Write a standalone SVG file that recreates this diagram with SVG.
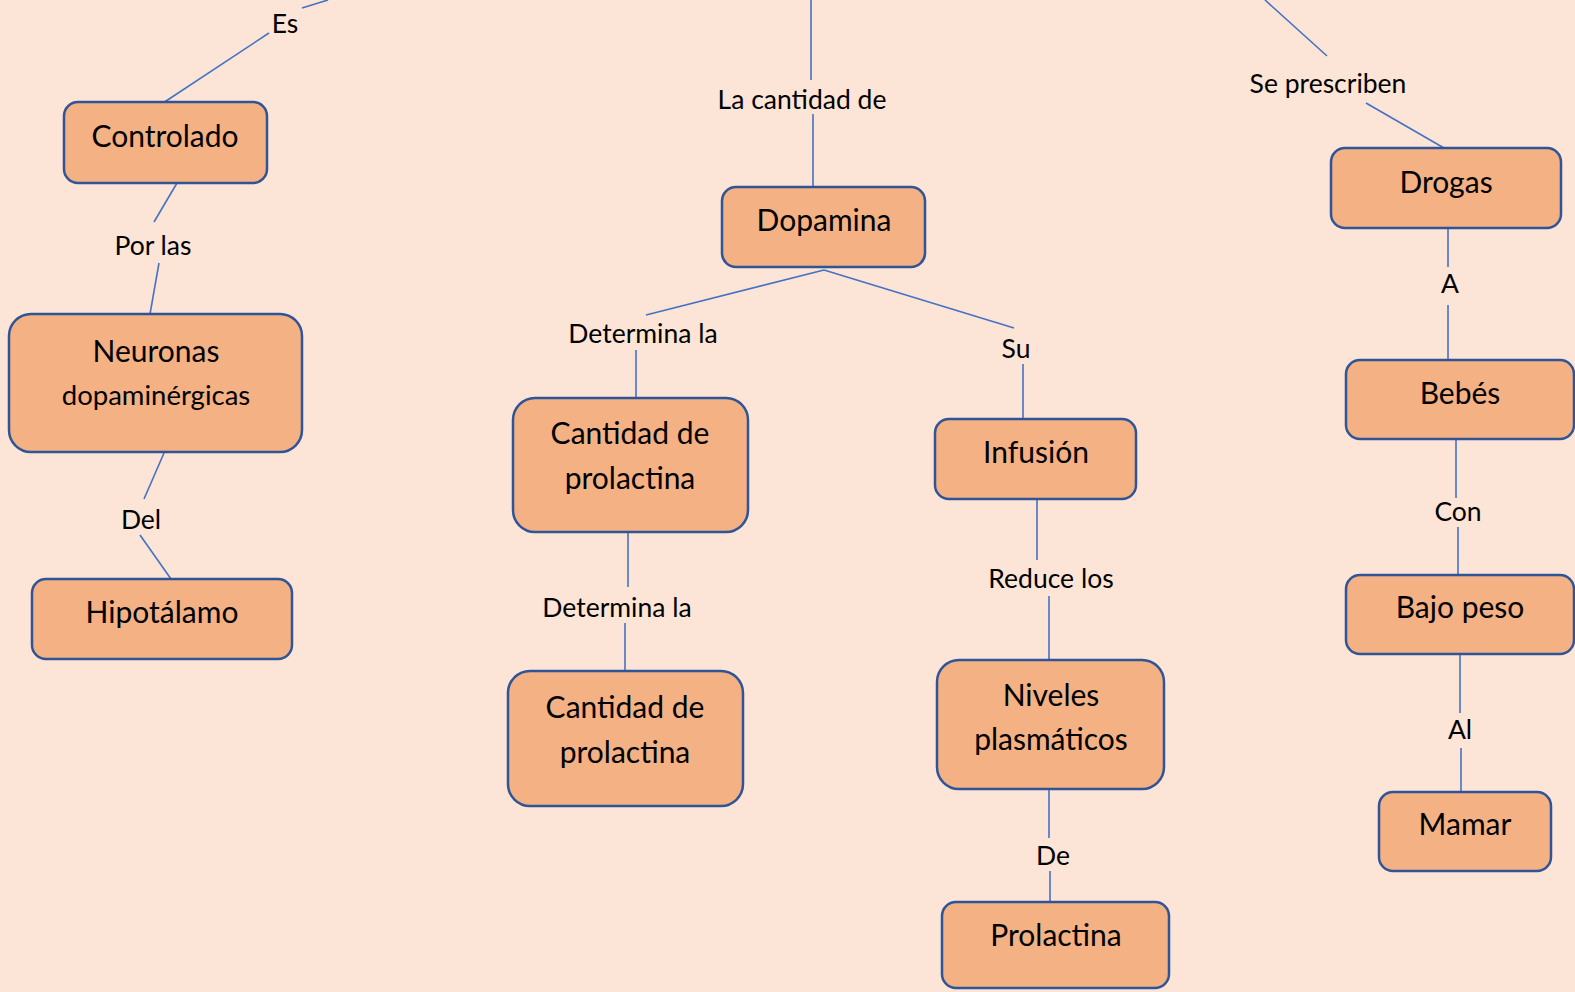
<svg xmlns="http://www.w3.org/2000/svg" width="1575" height="992" viewBox="0 0 1575 992">
<style>
.bg{fill:#FCE4D6}
.node rect{fill:#F4B183;stroke:#2F5597;stroke-width:2.5}
.node text{font-family:Lato,"Liberation Sans",sans-serif;font-size:30px;fill:#000;text-anchor:middle}
.node text.s{font-size:27.5px}
#connectors line{stroke:#4472C4;stroke-width:1.6}
#connectors text{font-family:Lato,"Liberation Sans",sans-serif;font-size:26.5px;fill:#000;text-anchor:middle}
</style>
<rect class="bg" x="0" y="0" width="1575" height="992"/>
<g id="connectors">
<line x1="302" y1="8" x2="328" y2="0"/>
<line x1="269" y1="33" x2="163" y2="103"/>
<text x="285" y="33">Es</text>
<line x1="177" y1="183" x2="154" y2="222"/>
<line x1="159" y1="263" x2="150" y2="314"/>
<text x="153" y="255">Por las</text>
<line x1="164" y1="453" x2="144" y2="499"/>
<line x1="140" y1="535" x2="171" y2="579"/>
<text x="141" y="529">Del</text>
<line x1="811" y1="0" x2="811" y2="80"/>
<line x1="813" y1="114" x2="813" y2="187"/>
<text x="802" y="109">La cantidad de</text>
<line x1="824" y1="270" x2="646" y2="315"/>
<line x1="824" y1="270" x2="1014" y2="328"/>
<text x="643" y="343">Determina la</text>
<line x1="636" y1="350" x2="636" y2="398"/>
<text x="1016" y="358">Su</text>
<line x1="1023" y1="364" x2="1023" y2="419"/>
<line x1="628" y1="532" x2="628" y2="587"/>
<text x="617" y="617">Determina la</text>
<line x1="625" y1="623" x2="625" y2="671"/>
<line x1="1037" y1="499" x2="1037" y2="560"/>
<text x="1051" y="588">Reduce los</text>
<line x1="1049" y1="596" x2="1049" y2="660"/>
<line x1="1049" y1="789" x2="1049" y2="838"/>
<text x="1053" y="865">De</text>
<line x1="1050" y1="871" x2="1050" y2="902"/>
<line x1="1265" y1="0" x2="1327" y2="56"/>
<text x="1328" y="93">Se prescriben</text>
<line x1="1366" y1="103" x2="1444" y2="148"/>
<line x1="1448" y1="228" x2="1448" y2="267"/>
<text x="1450" y="293">A</text>
<line x1="1448" y1="305" x2="1448" y2="360"/>
<line x1="1456" y1="439" x2="1456" y2="498"/>
<text x="1458" y="521">Con</text>
<line x1="1458" y1="527" x2="1458" y2="575"/>
<line x1="1460" y1="654" x2="1460" y2="713"/>
<text x="1460" y="739">Al</text>
<line x1="1461" y1="748" x2="1461" y2="792"/>
</g>
<g id="controlado" class="node"><rect x="64" y="102" width="203" height="81" rx="14"/><text x="165" y="147">Controlado</text></g>
<g id="neuronas" class="node"><rect x="9" y="314" width="293" height="138" rx="22"/><text x="156" y="362">Neuronas</text><text class="s" x="156" y="405">dopaminérgicas</text></g>
<g id="hipotalamo" class="node"><rect x="32" y="579" width="260" height="80" rx="14"/><text x="162" y="623">Hipotálamo</text></g>
<g id="dopamina" class="node"><rect x="722" y="187" width="203" height="80" rx="14"/><text x="824" y="231">Dopamina</text></g>
<g id="cantidad1" class="node"><rect x="513" y="398" width="235" height="134" rx="22"/><text x="630" y="444">Cantidad de</text><text x="630" y="489">prolactina</text></g>
<g id="cantidad2" class="node"><rect x="508" y="671" width="235" height="135" rx="22"/><text x="625" y="718">Cantidad de</text><text x="625" y="763">prolactina</text></g>
<g id="infusion" class="node"><rect x="935" y="419" width="201" height="80" rx="14"/><text x="1036" y="463">Infusión</text></g>
<g id="niveles" class="node"><rect x="937" y="660" width="227" height="129" rx="22"/><text x="1051" y="706">Niveles</text><text x="1051" y="750">plasmáticos</text></g>
<g id="prolactina" class="node"><rect x="942" y="902" width="227" height="86" rx="14"/><text x="1056" y="946">Prolactina</text></g>
<g id="drogas" class="node"><rect x="1331" y="148" width="230" height="80" rx="14"/><text x="1446" y="193">Drogas</text></g>
<g id="bebes" class="node"><rect x="1346" y="360" width="228" height="79" rx="14"/><text x="1460" y="404">Bebés</text></g>
<g id="bajopeso" class="node"><rect x="1346" y="575" width="228" height="79" rx="14"/><text x="1460" y="618">Bajo peso</text></g>
<g id="mamar" class="node"><rect x="1379" y="792" width="172" height="79" rx="14"/><text x="1465" y="835">Mamar</text></g>
</svg>
